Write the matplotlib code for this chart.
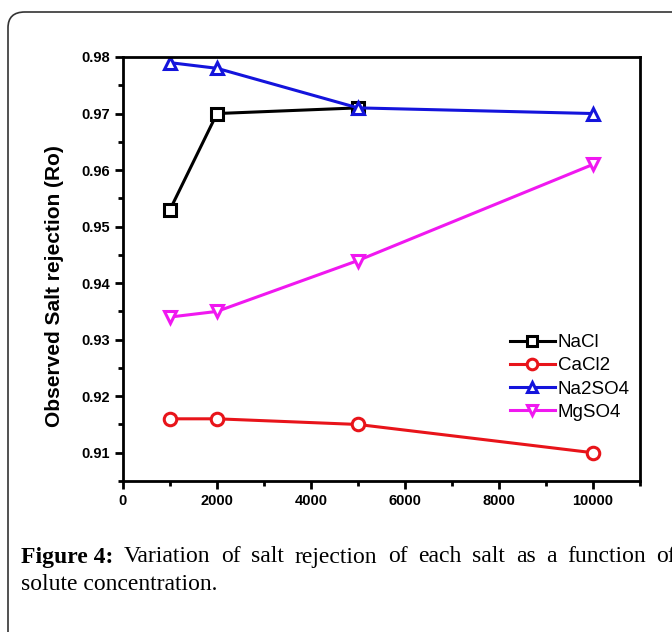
import numpy as np
import matplotlib.pyplot as plt
from matplotlib.patches import FancyBboxPatch
from matplotlib.ticker import MultipleLocator

conc_nacl = [1000, 2000, 5000]
nacl = [0.953, 0.970, 0.971]
conc = [1000, 2000, 5000, 10000]
cacl2 = [0.916, 0.916, 0.915, 0.910]
na2so4 = [0.979, 0.978, 0.971, 0.970]
mgso4 = [0.934, 0.935, 0.944, 0.961]

caption_1 = ['Figure 4:', 'Variation', 'of', 'salt', 'rejection', 'of', 'each',
             'salt', 'as', 'a', 'function', 'of']
caption_2 = 'solute concentration.'

fig = plt.figure(figsize=(6.72, 6.32), dpi=100)

# rounded frame (right and bottom edges run off the picture)
frame = FancyBboxPatch((8/672, -0.1), 700/672, 620/632 + 0.1,
                       boxstyle="round,pad=0,rounding_size=0.025",
                       transform=fig.transFigure, fill=False,
                       edgecolor='#333333', linewidth=1.2, clip_on=False)
fig.patches.append(frame)

ax = fig.add_axes([123/672, 1 - 481/632, 517/672, 424/632])

mk = dict(markersize=9, markerfacecolor='white', markeredgewidth=2.2, linewidth=2.2)
ax.plot(conc_nacl, nacl, color='black', marker='s', label='NaCl', **mk)
ax.plot(conc, cacl2, color='#e8141a', marker='o', label='CaCl2', **mk)
ax.plot(conc, na2so4, color='#1414dc', marker='^', label='Na2SO4', **mk)
ax.plot(conc, mgso4, color='#f018f0', marker='v', label='MgSO4', **mk)

ax.set_xlim(0, 11000)
ax.set_ylim(0.905, 0.98)
ax.xaxis.set_major_locator(MultipleLocator(2000))
ax.xaxis.set_minor_locator(MultipleLocator(1000))
ax.yaxis.set_major_locator(MultipleLocator(0.01))
ax.yaxis.set_minor_locator(MultipleLocator(0.005))
ax.yaxis.set_major_formatter(plt.FuncFormatter(lambda v, p: f"{v:.2f}"))
ax.tick_params(which='major', direction='out', length=6, width=2)
ax.tick_params(which='minor', direction='out', length=3.5, width=2)
for lab in ax.get_xticklabels() + ax.get_yticklabels():
    lab.set_fontfamily('Liberation Sans')
    lab.set_fontweight('bold')
    lab.set_fontsize(10.5)
for s in ax.spines.values():
    s.set_linewidth(2)

ax.set_ylabel('Observed Salt rejection (Ro)', fontfamily='Liberation Sans',
              fontweight='bold', fontsize=15)
ax.yaxis.set_label_coords(-0.114, 0.46)

leg = ax.legend(loc='upper left', bbox_to_anchor=(0.734, 0.364), frameon=False,
                prop={'family': 'Liberation Sans', 'size': 13.5},
                handlelength=2.4, handletextpad=0.15, labelspacing=0.32,
                borderaxespad=0, markerscale=0.85)

# caption, first line justified from x=21 to x=676 px
cap_font = dict(fontfamily='Liberation Serif', fontsize=17, va='center', ha='left')
texts = []
for i, w in enumerate(caption_1):
    t = fig.text(0, 1 - 557/632, w, fontweight='bold' if i == 0 else 'normal', **cap_font)
    texts.append(t)
fig.canvas.draw()
r = fig.canvas.get_renderer()
widths = [t.get_window_extent(r).width for t in texts]
left, right = 21, 676
gap = (right - left - sum(widths)) / (len(texts) - 1)
xp = left
for t, wd in zip(texts, widths):
    t.set_x(xp / 672)
    xp += wd + gap
fig.text(21/672, 1 - 584/632, caption_2, **cap_font)

fig.savefig('out.png', dpi=100)
